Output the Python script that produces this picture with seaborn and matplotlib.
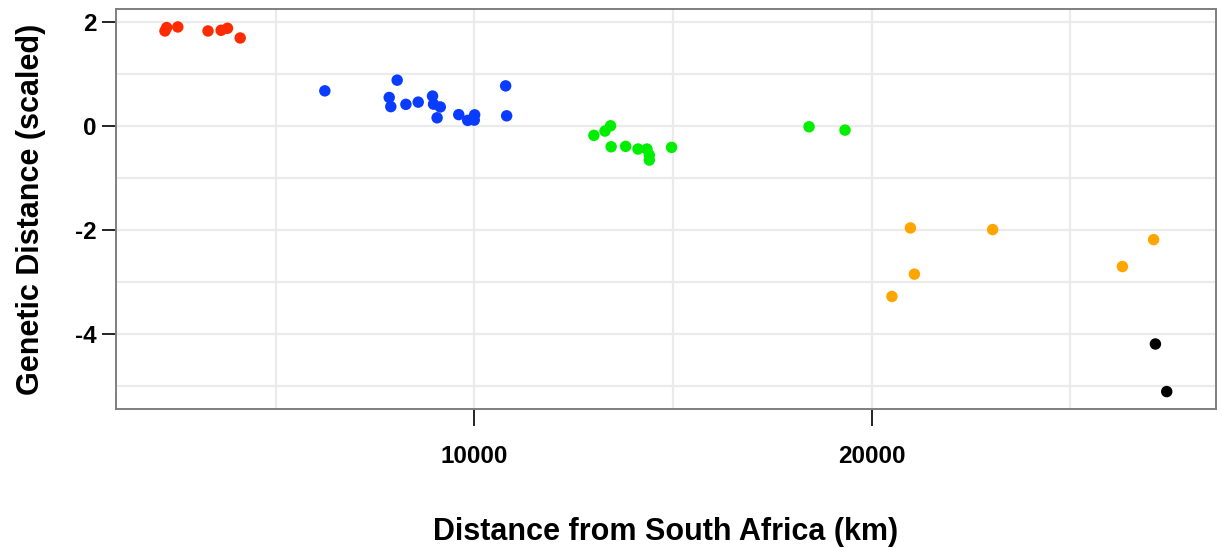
import matplotlib
matplotlib.use("Agg")
import matplotlib.pyplot as plt
import seaborn as sns
import pandas as pd
from matplotlib.ticker import MultipleLocator

# Data
red_x = [2217, 2260, 2540, 3300, 3630, 3790, 4110]
red_y = [1.833, 1.898, 1.910, 1.833, 1.846, 1.885, 1.698]

blue_x = [6240, 8060, 7860, 7900, 8280, 8590, 8950, 8975, 9145, 9065, 9610, 9835, 10010, 10000, 10790, 10815]
blue_y = [0.679, 0.885, 0.552, 0.375, 0.419, 0.462, 0.579, 0.423, 0.369, 0.160, 0.221, 0.110, 0.217, 0.115, 0.775, 0.198]

green_x = [13010, 13290, 13430, 13445, 13810, 14120, 14345, 14405, 14405, 14965, 18425, 19330]
green_y = [-0.179, -0.096, 0.006, -0.398, -0.390, -0.442, -0.442, -0.558, -0.654, -0.410, -0.013, -0.077]

orange_x = [20975, 23045, 21075, 20510, 27095, 26310]
orange_y = [-1.962, -1.994, -2.852, -3.282, -2.187, -2.706]

black_x = [27140, 27425]
black_y = [-4.198, -5.115]

groups = ["red", "blue", "green", "orange", "black"]
colors = {"red": "#FF2A00", "blue": "#0A3CFF", "green": "#00EE00",
          "orange": "#FFA500", "black": "#000000"}

xs = [red_x, blue_x, green_x, orange_x, black_x]
ys = [red_y, blue_y, green_y, orange_y, black_y]
rows = []
for g, gx, gy in zip(groups, xs, ys):
    for a, b in zip(gx, gy):
        rows.append({"dist": a, "gen": b, "grp": g})
df = pd.DataFrame(rows)

sns.set_theme(style="white")
plt.rcParams["font.family"] = ["Liberation Sans", "DejaVu Sans"]
plt.rcParams["axes.unicode_minus"] = False
plt.rcParams["text.color"] = "black"
plt.rcParams["axes.labelcolor"] = "black"
plt.rcParams["xtick.color"] = "black"
plt.rcParams["ytick.color"] = "black"

fig = plt.figure(figsize=(12.22, 5.48), dpi=100)
ax = fig.add_axes([0.0949, 0.2537, 0.8999, 0.7293])

ax.xaxis.set_major_locator(MultipleLocator(10000))
ax.xaxis.set_minor_locator(MultipleLocator(5000))
ax.yaxis.set_major_locator(MultipleLocator(2))
ax.yaxis.set_minor_locator(MultipleLocator(1))
ax.grid(True, which="both", color="#EBEBEB", linewidth=1.6)
ax.set_axisbelow(True)

sns.scatterplot(data=df, x="dist", y="gen", hue="grp", palette=colors,
                hue_order=groups, s=68, linewidth=0, legend=False, ax=ax,
                zorder=3)

ax.set_xlim(984, 28656)
ax.set_ylim(-5.45, 2.25)

for sp in ax.spines.values():
    sp.set_visible(True)
    sp.set_color("#7F7F7F")
    sp.set_linewidth(1.4)

ax.tick_params(axis="x", which="major", length=12, width=1.2, color="black",
               direction="out", pad=14, labelsize=17.5, labelcolor="black",
               bottom=True)
ax.tick_params(axis="y", which="major", length=10, width=1.2, color="black",
               direction="out", pad=4, labelsize=17.5, labelcolor="black",
               left=True)
ax.tick_params(which="minor", length=0)
for lab in ax.get_xticklabels() + ax.get_yticklabels():
    lab.set_fontweight("bold")

ax.set_xlabel("Distance from South Africa (km)", fontsize=22, fontweight="bold",
              labelpad=35, color="black")
ax.set_ylabel("Genetic Distance (scaled)", fontsize=22, fontweight="bold",
              labelpad=21, color="black")

fig.savefig("out.png", dpi=100)
